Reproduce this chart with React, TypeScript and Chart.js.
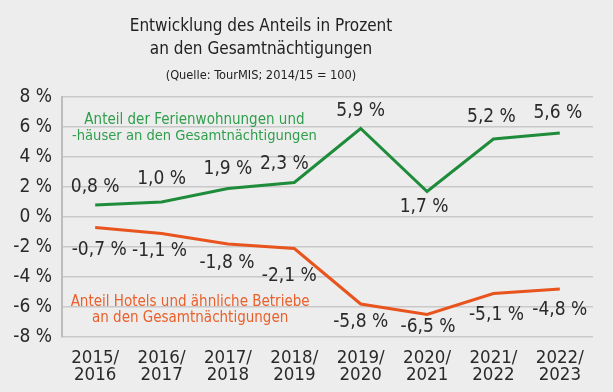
import React, { useEffect, useRef } from "react";
import { Chart, registerables } from "chart.js";

Chart.register(...registerables);

const categories: string[][] = [
  ["2015/", "2016"], ["2016/", "2017"], ["2017/", "2018"], ["2018/", "2019"],
  ["2019/", "2020"], ["2020/", "2021"], ["2021/", "2022"], ["2022/", "2023"],
];
const ferienwohnungen: number[] = [0.8, 1.0, 1.9, 2.3, 5.9, 1.7, 5.2, 5.6];
const hotels: number[] = [-0.7, -1.1, -1.8, -2.1, -5.8, -6.5, -5.1, -4.8];
const titleLines: string[] = ["Entwicklung des Anteils in Prozent", "an den Gesamtnächtigungen"];
const subtitleText = "(Quelle: TourMIS; 2014/15 = 100)";
const greenLabel: string[] = ["Anteil der Ferienwohnungen und", "-häuser an den Gesamtnächtigungen"];
const orangeLabel: string[] = ["Anteil Hotels und ähnliche Betriebe", "an den Gesamtnächtigungen"];

// label placement offsets (pixels, styling only)
const greenLabelDx: number[] = [0, 0, 0, -10, 0, -3, -2, -2];
const greenLabelDy: number[] = [-18, -23, -19, -18.5, -17, 16, -21.5, -19.5];
const orangeLabelDx: number[] = [4, -2, -1, -5, 0, 1, 3, 0];
const orangeLabelDy: number[] = [23, 18, 19.5, 27.5, 18.5, 13, 22, 21.5];

const FONT = "'Liberation Sans Narrow', 'DejaVu Sans Condensed', Roboto, sans-serif";
const GREEN = "#1f8c3b";
const GREEN_TXT = "#2f9e4c";
const ORANGE = "#e8541e";
const ORANGE_TXT = "#ea5f2a";
const fmt = (v: number) => v.toFixed(1).replace(".", ",") + " %";

const labelsPlugin = {
  id: "valueLabels",
  afterDatasetsDraw(chart: any) {
    const ctx = chart.ctx;
    ctx.save();
    ctx.textAlign = "center";
    ctx.textBaseline = "middle";
    // title
    ctx.fillStyle = "#222";
    ctx.font = `17px ${FONT}`;
    ctx.fillText(titleLines[0], 261, 27);
    ctx.fillText(titleLines[1], 261, 50);
    ctx.font = `12.7px ${FONT}`;
    ctx.fillText(subtitleText, 261, 76);
    // values
    ctx.font = `19px ${FONT}`;
    ctx.fillStyle = "#2a2a2a";
    const dxs = [greenLabelDx, orangeLabelDx];
    const dys = [greenLabelDy, orangeLabelDy];
    chart.data.datasets.forEach((ds: any, di: number) => {
      const meta = chart.getDatasetMeta(di);
      meta.data.forEach((pt: any, i: number) => {
        ctx.fillText(fmt(ds.data[i]), pt.x + dxs[di][i], pt.y + dys[di][i]);
      });
    });
    const xs = chart.scales.x;
    const ys = chart.scales.y;
    ctx.font = `15px ${FONT}`;
    ctx.fillStyle = GREEN_TXT;
    const gx = xs.getPixelForValue(1.45) + 3;
    ctx.fillText(greenLabel[0], gx, ys.getPixelForValue(6.6) + 2);
    ctx.font = `14.6px ${FONT}`;
    ctx.fillText(greenLabel[1], gx, ys.getPixelForValue(5.55) + 2);
    ctx.font = `15px ${FONT}`;
    ctx.fillStyle = ORANGE_TXT;
    const ox = xs.getPixelForValue(1.4) + 2;
    ctx.fillText(orangeLabel[0], ox, ys.getPixelForValue(-5.6) + 1);
    ctx.fillText(orangeLabel[1], ox, ys.getPixelForValue(-6.65) + 1);
    ctx.restore();
  },
};

export default function App() {
  const ref = useRef<HTMLCanvasElement>(null);
  useEffect(() => {
    document.body.style.margin = "0";
    const chart = new Chart(ref.current!, {
      type: "line",
      data: {
        labels: categories,
        datasets: [
          { data: ferienwohnungen, borderColor: GREEN, borderWidth: 3, pointRadius: 0, tension: 0 },
          { data: hotels, borderColor: ORANGE, borderWidth: 3, pointRadius: 0, tension: 0 },
        ],
      },
      options: {
        animation: false,
        responsive: false,
        layout: { padding: { left: 0, right: 20, top: 97, bottom: 0 } },
        plugins: {
          legend: { display: false },
          tooltip: { enabled: false },
          title: { display: false },
        },
        scales: {
          x: {
            offset: true,
            grid: { display: false, drawTicks: false },
            border: { display: false },
            ticks: {
              color: "#2a2a2a",
              font: { family: FONT, size: 18.5, lineHeight: 0.95 },
              maxRotation: 0,
              padding: 12,
            },
            afterFit: (s: any) => { s.height = 55; },
          },
          y: {
            min: -8,
            max: 8,
            grid: { color: "#c9c9c9", lineWidth: 1.5, drawTicks: false },
            border: { display: true, color: "#bdbdbd", width: 2 },
            ticks: {
              stepSize: 2,
              color: "#2a2a2a",
              font: { family: FONT, size: 19 },
              padding: 10,
              callback: (v: any) => `${v} %`,
            },
            afterFit: (s: any) => { s.width = 62; },
          },
        },
      },
      plugins: [labelsPlugin],
    });
    return () => chart.destroy();
  }, []);
  return (
    <div style={{ width: 613, height: 392, background: "#ededed" }}>
      <canvas ref={ref} width={613} height={392} />
    </div>
  );
}
